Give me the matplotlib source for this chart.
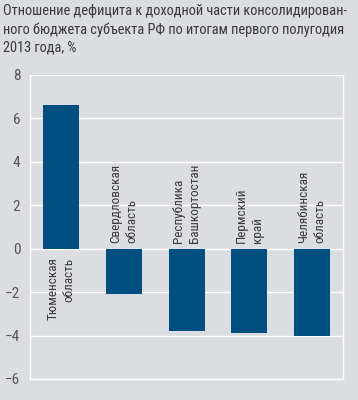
import matplotlib.pyplot as plt
from matplotlib import font_manager

regions = ["Тюменская\nобласть", "Свердловская\nобласть", "Республика\nБашкортостан",
           "Пермский\nкрай", "Челябинская\nобласть"]
values = [6.6, -2.1, -3.8, -3.9, -4.0]
yticks = [-6, -4, -2, 0, 2, 4, 6, 8]

title = ("Отношение дефицита к доходной части консолидирован-\n"
         "ного бюджета субъекта РФ по итогам первого полугодия\n"
         "2013 года, %")

# condensed font, like the original layout
names = {f.name for f in font_manager.fontManager.ttflist}
font = "DejaVu Sans"
for cand in ["Roboto Condensed", "PT Sans Narrow", "Fira Sans Condensed",
             "Liberation Sans Narrow", "Open Sans Condensed", "Arimo"]:
    if cand in names:
        font = cand
        break
plt.rcParams['font.family'] = [font, 'DejaVu Sans']

bg = "#dcdde0"
bar_color = "#004f80"
text_color = "#3a3a3a"

fig = plt.figure(figsize=(3.58, 4.0), dpi=100, facecolor=bg)
ax = fig.add_axes([0.084, 0.0525, 0.874, 0.76], facecolor=bg)

x = range(len(values))
ax.bar(x, values, width=0.575, color=bar_color, zorder=3)

ax.set_xlim(-0.5, len(values) - 0.5)
ax.set_ylim(-6, 8)
ax.set_yticks(yticks)
ax.set_xticks([])
ax.grid(axis='y', color='white', linewidth=1.0, zorder=1)
ax.tick_params(axis='y', length=0, labelsize=11, colors="#555555", pad=7)

for side in ['left', 'right', 'bottom']:
    ax.spines[side].set_color('white')
    ax.spines[side].set_linewidth(1.0)
ax.spines['top'].set_visible(False)

for i, (name, v) in enumerate(zip(regions, values)):
    if v > 0:
        ax.text(i, -0.4, name, rotation=90, ha='center', va='top',
                multialignment='right', fontsize=9.5, color=text_color,
                linespacing=1.3)
    else:
        ax.text(i, 0.25, name, rotation=90, ha='center', va='bottom',
                multialignment='left', fontsize=9.5, color=text_color,
                linespacing=1.3)

fig.text(0.008, 0.99, title, ha='left', va='top', fontsize=10.4,
         color=text_color, linespacing=1.35)

fig.savefig("out.png", dpi=100, facecolor=bg)
